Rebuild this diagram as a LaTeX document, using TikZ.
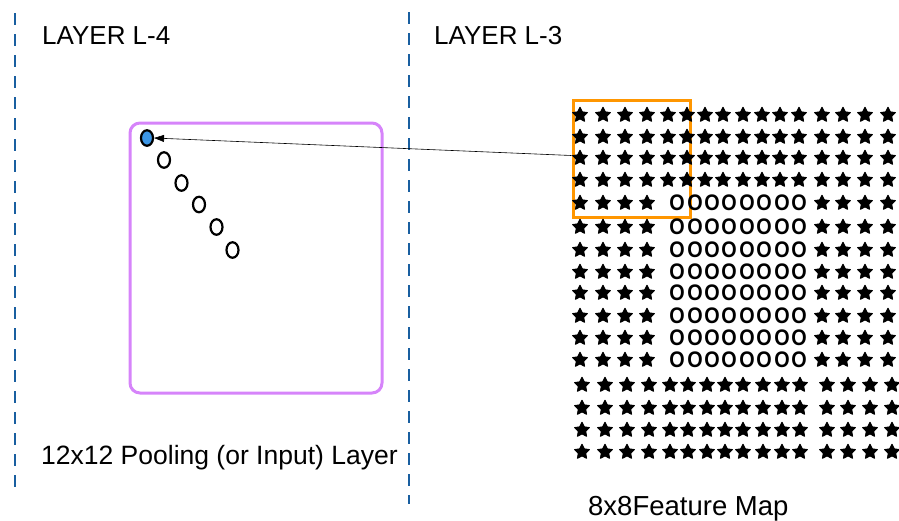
\documentclass[tikz,border=0pt]{standalone}
\usepackage{fontspec}
\setmainfont{Liberation Sans}
\usetikzlibrary{shapes.geometric,arrows.meta}
\definecolor{dashblue}{RGB}{25,95,160}
\definecolor{purplebox}{RGB}{214,132,250}
\definecolor{orangebox}{RGB}{255,150,0}
\definecolor{bluefill}{RGB}{60,150,230}
\newcommand\tallO{\scalebox{0.88}[1]{O}}
\begin{document}
\begin{tikzpicture}[x=1pt,y=-1pt,
  starsym/.style={star,star points=5,star point ratio=2.0,fill=black,draw=black,line width=1pt,line join=round,inner sep=0pt,minimum size=15.5pt},
  osym/.style={inner sep=0pt,font=\fontsize{22.5}{23}\bfseries\selectfont},
  lbl/.style={inner sep=0pt,font=\fontsize{26}{30}\selectfont,anchor=base west},
  dashline/.style={draw=dashblue,line width=2.8pt,dash pattern=on 12pt off 9pt},
  dotnode/.style={draw=black,line width=2.2pt,ellipse,minimum width=12pt,minimum height=15.5pt,inner sep=0pt}]
\useasboundingbox (0,0) rectangle (899,520);
% dashed separators
\coordinate (d1a) at (15,13);
\coordinate (d1b) at (15,495);
\coordinate (d2a) at (409,12);
\coordinate (d2b) at (409,504);
\draw[dashline] (d1a) -- (d1b);
\draw[dashline] (d2a) -- (d2b);
% labels
\node[lbl] (l4) at (42,44) {LAYER L-4};
\node[lbl] (l3) at (434,44) {LAYER L-3};
\node[lbl,font=\fontsize{26.5}{30}\selectfont] (pl) at (41,464) {12x12 Pooling (or Input) Layer};
\node[lbl,font=\fontsize{27.5}{30}\selectfont] (fm) at (588,515) {8x8Feature Map};
% pooling layer box
\node[draw=purplebox,line width=3pt,rounded corners=10pt,minimum width=252pt,minimum height=270pt,inner sep=0pt] (pool) at (256,258) {};
% dots
\node[dotnode,fill=bluefill] (c0) at (147,138) {};
\node[dotnode] (c1) at (164,160) {};
\node[dotnode] (c2) at (181.5,183) {};
\node[dotnode] (c3) at (199,204.5) {};
\node[dotnode] (c4) at (216.5,227) {};
\node[dotnode] (c5) at (232.5,250) {};
% orange window
\node[draw=orangebox,line width=3pt,minimum width=117pt,minimum height=117pt,inner sep=0pt] (win) at (631.5,158.5) {};
% feature map: top rows
\foreach \y [count=\r] in {115,137,158,180}{
  \foreach \x [count=\c] in {580,603,625,647,668,687,705,723,743,762,780,799,822,843,865,888}
    \node[starsym] (t\r-\c) at (\x,\y) {};
}
% middle rows
\foreach \y [count=\r] in {203,227,250,272,293,316,338,360}{
  \foreach \x [count=\c] in {580,603,625,647}
    \node[starsym] (ml\r-\c) at (\x,\y) {};
  \foreach \x [count=\c] in {677,695,712,729,747,764,782,799}
    \node[osym] (o\r-\c) at (\x,\y) {\tallO};
  \foreach \x [count=\c] in {822,843,865,888}
    \node[starsym] (mr\r-\c) at (\x,\y) {};
}
% bottom rows
\foreach \y [count=\r] in {385,408,430,452}{
  \foreach \x [count=\c] in {582,605,627,649,670,688,707,725,743,763,782,800,827,848,870,892}
    \node[starsym] (b\r-\c) at (\x,\y) {};
}
% arrow
\draw[line width=0.6pt,-{Triangle[length=10pt,width=7pt]}] ([yshift=3pt]win.west) -- (c0.east);
\end{tikzpicture}
\end{document}
